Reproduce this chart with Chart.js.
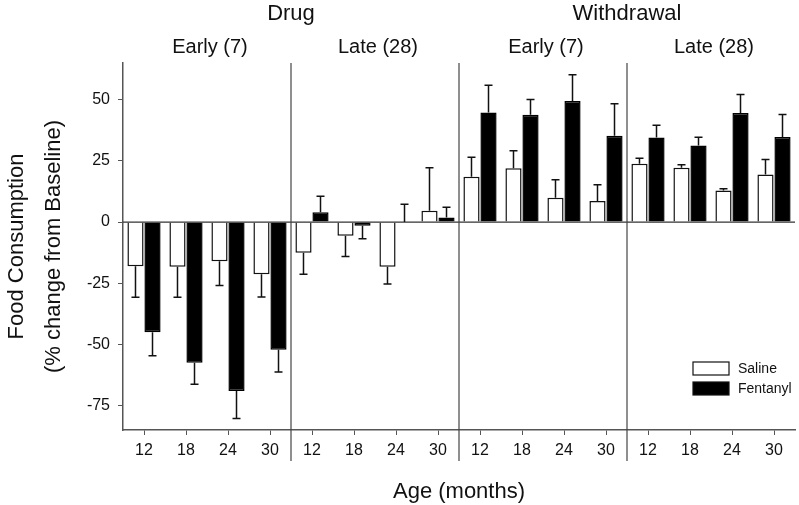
<!DOCTYPE html>
<html>
<head>
<meta charset="utf-8">
<script src="https://cdn.jsdelivr.net/npm/chart.js@4/dist/chart.umd.min.js"></script>
<style>
  html, body { margin: 0; padding: 0; background: #fff; }
  #wrap { width: 799px; height: 505px; position: relative; }
</style>
</head>
<body>
<div id="wrap"><canvas id="c"></canvas></div>
<script>
// ---- data ----
const conditions = ['Drug', 'Withdrawal'];
const phases = ['Early (7)', 'Late (28)', 'Early (7)', 'Late (28)'];
const ages = ['12', '18', '24', '30'];
const yTicks = [-75, -50, -25, 0, 25, 50];
const seriesNames = ['Saline', 'Fentanyl'];

const salineMean = [-18.1, -18.3, -16.0, -21.3, -12.6, -5.6, -18.3, 4.6, 18.5, 22.0, 9.9, 8.6, 23.8, 22.2, 12.9, 19.4];
const salineErr = [12.6, 12.4, 9.9, 9.3, 8.7, 8.5, 7.0, 17.6, 8.0, 7.1, 7.4, 6.6, 2.3, 1.2, 0.7, 6.2];
const fentanylMean = [-45.0, -57.5, -69.1, -52.2, 4.0, -1.5, 0, 1.9, 44.8, 43.8, 49.5, 35.3, 34.5, 31.3, 44.6, 34.8];
const fentanylErr = [9.7, 8.8, 11.2, 9.1, 6.5, 5.3, 7.3, 4.1, 11.1, 6.3, 10.7, 13.0, 5.1, 3.4, 7.5, 9.2];

const labels = phases.flatMap(() => ages);
const errors = [salineErr, fentanylErr];
const FONT = '"Liberation Sans", Arial, sans-serif';

const decor = {
  id: 'decor',
  afterDatasetsDraw(chart) {
    const ctx = chart.ctx;
    const x = chart.scales.x, y = chart.scales.y;
    const ca = chart.chartArea;
    ctx.save();
    // zero line
    const y0 = y.getPixelForValue(0);
    ctx.strokeStyle = '#333';
    ctx.lineWidth = 1.2;
    ctx.beginPath(); ctx.moveTo(ca.left, y0); ctx.lineTo(ca.right, y0); ctx.stroke();
    // panel dividers
    ctx.strokeStyle = '#444';
    ctx.lineWidth = 1.2;
    for (let p = 1; p < phases.length; p++) {
      const i = p * ages.length;
      const xd = (x.getPixelForValue(i - 1) + x.getPixelForValue(i)) / 2;
      ctx.beginPath(); ctx.moveTo(xd, ca.top); ctx.lineTo(xd, ca.bottom + 31); ctx.stroke();
    }
    // error bars
    ctx.strokeStyle = '#111';
    ctx.lineWidth = 1.5;
    chart.data.datasets.forEach((ds, di) => {
      const meta = chart.getDatasetMeta(di);
      meta.data.forEach((bar, i) => {
        const v = ds.data[i];
        const e = errors[di][i];
        const dir = v < 0 ? -1 : 1;
        const ya = y.getPixelForValue(v);
        const yb = y.getPixelForValue(v + dir * e);
        ctx.beginPath();
        ctx.moveTo(bar.x, ya); ctx.lineTo(bar.x, yb);
        ctx.moveTo(bar.x - 4, yb); ctx.lineTo(bar.x + 4, yb);
        ctx.stroke();
      });
    });
    // titles
    ctx.fillStyle = '#111';
    ctx.textAlign = 'center';
    ctx.textBaseline = 'middle';
    ctx.font = '22px ' + FONT;
    conditions.forEach((c, k) => {
      const a = x.getPixelForValue(k * 8), b = x.getPixelForValue(k * 8 + 7);
      ctx.fillText(c, (a + b) / 2, 14);
    });
    ctx.font = '20px ' + FONT;
    phases.forEach((ph, k) => {
      const a = x.getPixelForValue(k * 4), b = x.getPixelForValue(k * 4 + 3);
      ctx.fillText(ph, (a + b) / 2 + 3, 47);
    });
    // axis titles
    ctx.font = '22px ' + FONT;
    ctx.fillText('Age (months)', (ca.left + ca.right) / 2, 492);
    const yc = (ca.top + ca.bottom) / 2;
    ctx.save();
    ctx.translate(17, yc); ctx.rotate(-Math.PI / 2);
    ctx.fillText('Food Consumption', 0, 0);
    ctx.restore();
    ctx.save();
    ctx.translate(54, yc); ctx.rotate(-Math.PI / 2);
    ctx.fillText('(% change from Baseline)', 0, 0);
    ctx.restore();
    // legend
    ctx.font = '14px ' + FONT;
    ctx.textAlign = 'left';
    chart.data.datasets.forEach((ds, di) => {
      const ly = 362 + di * 20;
      ctx.fillStyle = ds.backgroundColor;
      ctx.fillRect(693, ly, 36, 13);
      ctx.strokeStyle = '#111';
      ctx.lineWidth = 1.2;
      ctx.strokeRect(693, ly, 36, 13);
      ctx.fillStyle = '#111';
      ctx.fillText(ds.label, 738, ly + 7);
    });
    ctx.restore();
  }
};

new Chart(document.getElementById('c'), {
  type: 'bar',
  data: {
    labels: labels,
    datasets: [
      { label: seriesNames[0], data: salineMean, backgroundColor: '#ffffff', borderColor: '#111', borderWidth: 1.5 },
      { label: seriesNames[1], data: fentanylMean, backgroundColor: '#000000', borderColor: '#000', borderWidth: 1.5 }
    ]
  },
  options: {
    responsive: true,
    maintainAspectRatio: false,
    devicePixelRatio: 1,
    animation: false,
    events: [],
    layout: { padding: { left: 0, top: 63, right: 4, bottom: 0 } },
    plugins: { legend: { display: false }, title: { display: false }, tooltip: { enabled: false } },
    datasets: { bar: { categoryPercentage: 0.81, barPercentage: 0.95 } },
    scales: {
      x: {
        type: 'category',
        offset: true,
        grid: { offset: false, drawOnChartArea: false, drawTicks: true, tickLength: 5, color: '#555', lineWidth: 1 },
        border: { display: true, color: '#555', width: 1.5 },
        ticks: { autoSkip: false, maxRotation: 0, padding: 6, color: '#111', font: { family: FONT, size: 16 } },
        afterFit(s) { s.height = 75; }
      },
      y: {
        min: -85,
        max: 65,
        afterBuildTicks(s) { s.ticks = yTicks.map(v => ({ value: v })); },
        grid: { drawOnChartArea: false, drawTicks: true, tickLength: 5, color: '#555', lineWidth: 1 },
        border: { display: true, color: '#555', width: 1.5 },
        ticks: { padding: 8, color: '#111', font: { family: FONT, size: 16 } },
        afterFit(s) { s.width = 123; }
      }
    }
  },
  plugins: [decor]
});
</script>
</body>
</html>
